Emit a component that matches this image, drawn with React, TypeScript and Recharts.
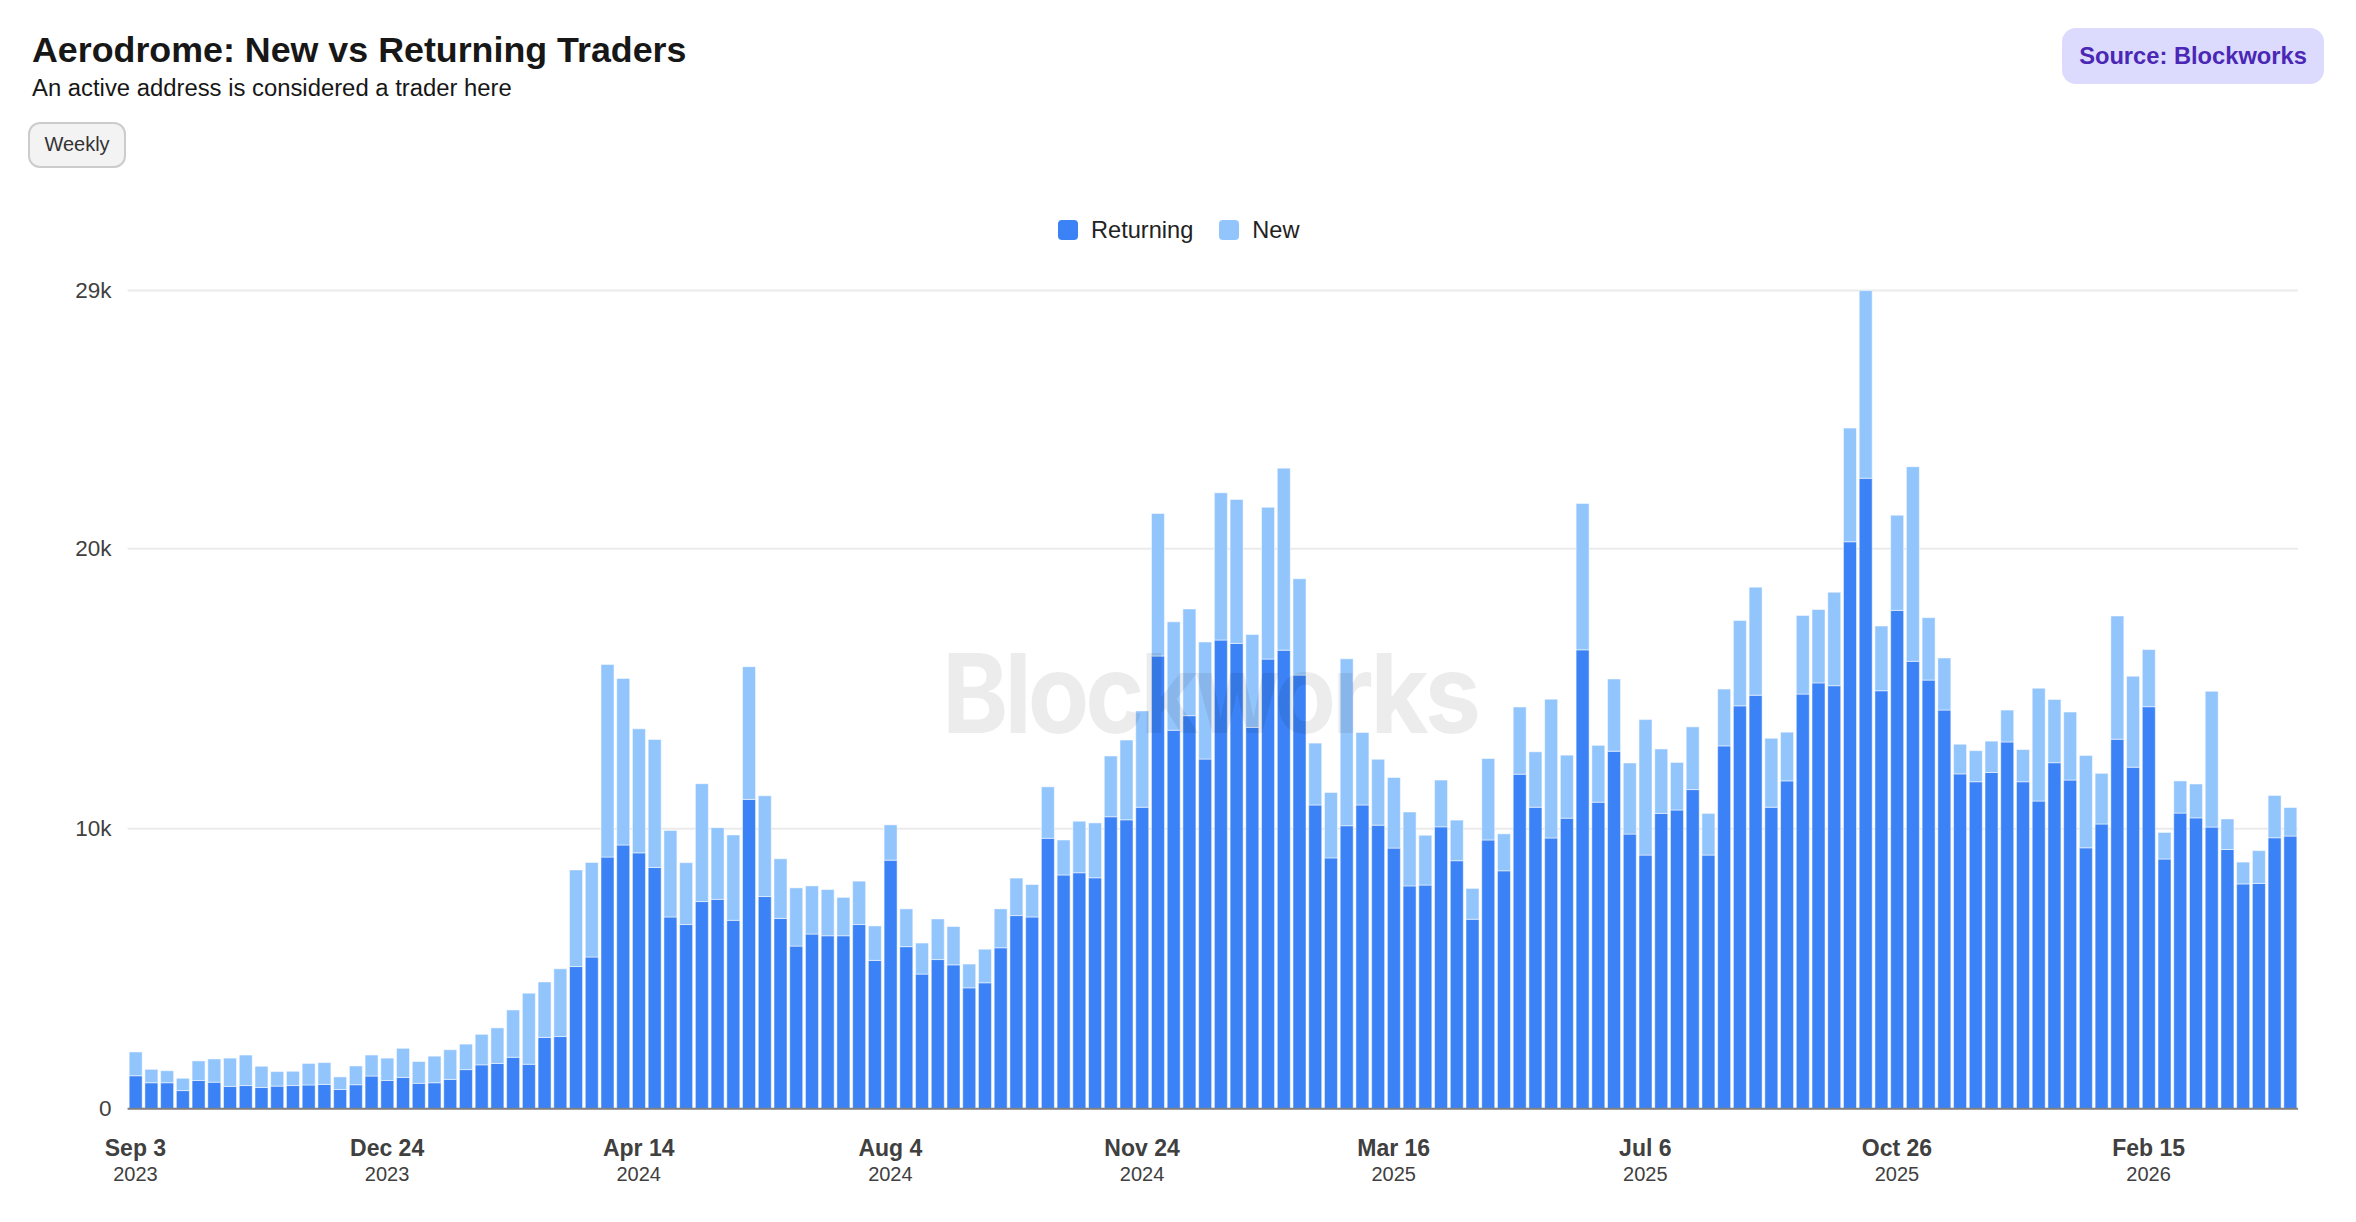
import { BarChart, Bar, XAxis, YAxis, CartesianGrid, Legend } from "recharts";

const returning = [
  1180, 930, 930, 650, 1010, 950, 800, 830, 760, 810, 830, 850, 870, 690, 860, 1170, 1010, 1120, 910, 930,
  1050, 1400, 1570, 1620, 1840, 1590, 2550, 2580, 5080, 5420, 8990, 9420, 9140, 8620, 6850, 6580, 7400, 7480, 6730, 11050,
  7580, 6800, 5810, 6240, 6180, 6180, 6580, 5300, 8880, 5790, 4810, 5330, 5140, 4320, 4500, 5750, 6900, 6850, 9660, 8350,
  8430, 8250, 10430, 10320, 10770, 16170, 13520, 14040, 12490, 16740, 16620, 13620, 16060, 16380, 15490, 10850, 8960, 10110, 10850, 10130,
  9310, 7960, 7990, 10070, 8860, 6770, 9600, 8500, 11950, 10770, 9670, 10380, 16390, 10950, 12770, 9810, 9060, 10550, 10670, 11400,
  9060, 12960, 14390, 14770, 10770, 11710, 14810, 15210, 15110, 20250, 22520, 14930, 17800, 15980, 15310, 14240, 11960, 11680, 12010, 13100,
  11680, 10990, 12360, 11740, 9320, 10170, 13200, 12200, 14360, 8920, 10560, 10390, 10060, 9260, 8030, 8050, 9680, 9740,
];

const newTraders = [
  850, 480, 430, 440, 700, 830, 1010, 1090, 760, 520, 510, 770, 780, 450, 670, 750, 800, 1040, 780, 950,
  1060, 910, 1090, 1270, 1690, 2540, 1980, 2420, 3450, 3380, 6880, 5950, 4430, 4570, 3090, 2210, 4210, 2560, 3050, 4740,
  3600, 2130, 2080, 1720, 1650, 1370, 1550, 1230, 1260, 1350, 1110, 1450, 1370, 850, 1200, 1390, 1340, 1160, 1840, 1250,
  1840, 1960, 2170, 2850, 3440, 5090, 3870, 3810, 4180, 5260, 5140, 3320, 5420, 6500, 3440, 2210, 2340, 5960, 2590, 2350,
  2520, 2640, 1780, 1670, 1450, 1100, 2910, 1320, 2400, 1980, 4960, 2250, 5230, 2030, 2580, 2540, 4840, 2300, 1700, 2240,
  1490, 2030, 3050, 3860, 2460, 1740, 2810, 2620, 3340, 4060, 6700, 2310, 3400, 6950, 2230, 1860, 1060, 1110, 1120, 1140,
  1150, 4030, 2260, 2430, 3300, 1810, 4400, 3250, 2040, 950, 1150, 1210, 4850, 1090, 780, 1170, 1510, 1020,
];

// one bar per week, starting on Sep 3 2023
const weeks = returning.map((_, i) => new Date(Date.UTC(2023, 8, 3 + i * 7)).toISOString().slice(0, 10));

const tickWeeks = ["2023-09-03", "2023-12-24", "2024-04-14", "2024-08-04", "2024-11-24", "2025-03-16", "2025-07-06", "2025-10-26", "2026-02-15"];
const tickDays = ["Sep 3", "Dec 24", "Apr 14", "Aug 4", "Nov 24", "Mar 16", "Jul 6", "Oct 26", "Feb 15"];
const tickYears = ["2023", "2023", "2024", "2024", "2024", "2025", "2025", "2025", "2026"];
const yTicks = [0, 10000, 20000, 29220];

const data = weeks.map((week, i) => ({ week, Returning: returning[i], New: newTraders[i] }));

const FONT = '"Liberation Sans", Arial, sans-serif';

const DateTick = ({ x, y, payload }: any) => {
  const i = tickWeeks.indexOf(payload.value);
  return (
    <g>
      <text x={x} y={y + 45} textAnchor="middle" fontFamily={FONT} fontSize={23} fontWeight={700} fill="#404040">
        {tickDays[i]}
      </text>
      <text x={x} y={y + 70.5} textAnchor="middle" fontFamily={FONT} fontSize={20} fill="#404040">
        {tickYears[i]}
      </text>
    </g>
  );
};

const LegendRow = ({ payload }: any) => (
  <div style={{ display: "flex", gap: 26, fontFamily: FONT, fontSize: 23.6, color: "#222", lineHeight: "28px" }}>
    {(payload || []).map((p: any) => (
      <div key={p.value} style={{ display: "flex", alignItems: "center", gap: 13 }}>
        <span style={{ width: 20, height: 20, borderRadius: 4, background: p.color }} />
        <span>{p.value}</span>
      </div>
    ))}
  </div>
);

const App = () => {
  return (
    <div style={{ position: "absolute", left: 0, top: 0, width: 2356, height: 1222, background: "#fff", overflow: "hidden", fontFamily: FONT }}>
      <div style={{ position: "absolute", left: 32, top: 28, fontSize: 35.8, fontWeight: 700, color: "#171717", lineHeight: "44px" }}>
        Aerodrome: New vs Returning Traders
      </div>
      <div style={{ position: "absolute", left: 32, top: 73, fontSize: 23.85, color: "#171717", lineHeight: "30px" }}>
        An active address is considered a trader here
      </div>
      <div
        style={{
          position: "absolute", left: 28, top: 122, width: 98, height: 46, boxSizing: "border-box",
          border: "2px solid #ccc", borderRadius: 12, background: "#f3f3f3", color: "#333",
          fontSize: 20, paddingBottom: 2, display: "flex", alignItems: "center", justifyContent: "center",
        }}
      >
        Weekly
      </div>
      <div
        style={{
          position: "absolute", left: 2062, top: 28, width: 262, height: 56, borderRadius: 14,
          background: "#dcdbfe", color: "#4a27b5", fontSize: 23.7, fontWeight: 700,
          display: "flex", alignItems: "center", justifyContent: "center",
        }}
      >
        Source: Blockworks
      </div>

      <div style={{ position: "absolute", left: 0, top: 0 }}>
        <BarChart width={2356} height={1222} data={data} margin={{ top: 290.6, right: 58, bottom: 0, left: 0 }} barCategoryGap="10%">
          <CartesianGrid vertical={false} stroke="#ebebeb" strokeWidth={2} />
          <XAxis
            dataKey="week"
            ticks={tickWeeks}
            interval={0}
            height={113.2}
            tick={<DateTick />}
            tickLine={false}
            tickSize={0}
            axisLine={{ stroke: "#808080", strokeWidth: 2 }}
          />
          <YAxis
            width={127.6}
            domain={[0, 29220]}
            ticks={yTicks}
            interval={0}
            axisLine={false}
            tickLine={false}
            tickSize={0}
            tickMargin={16}
            tick={{ fontFamily: FONT, fontSize: 22.5, fill: "#404040", dy: -1 }}
            tickFormatter={(v: number) => (v === 0 ? "0" : `${Math.round(v / 1000)}k`)}
          />
          <Legend
            layout="horizontal"
            verticalAlign="middle"
            align="center"
            itemSorter={null}
            content={<LegendRow />}
            wrapperStyle={{ top: 216, left: 1058, width: "auto", height: 28 }}
          />
          <Bar dataKey="Returning" stackId="a" fill="#3b82f6" stroke="#fff" strokeOpacity={0.5} strokeWidth={1} isAnimationActive={false} />
          <Bar dataKey="New" stackId="a" fill="#93c5fd" stroke="#fff" strokeOpacity={0.5} strokeWidth={1} isAnimationActive={false} />
        </BarChart>
      </div>

      {/* watermark sits over the bars */}
      <div
        style={{
          position: "absolute", left: 942, top: 625, fontFamily: "Inter", fontSize: 110, fontWeight: 700,
          letterSpacing: "-0.04em", lineHeight: "136px", color: "rgba(0,0,0,0.075)", pointerEvents: "none",
          transform: "scaleX(0.913)", transformOrigin: "left top", whiteSpace: "nowrap",
        }}
      >
        Blockworks
      </div>
    </div>
  );
};

export default App;
